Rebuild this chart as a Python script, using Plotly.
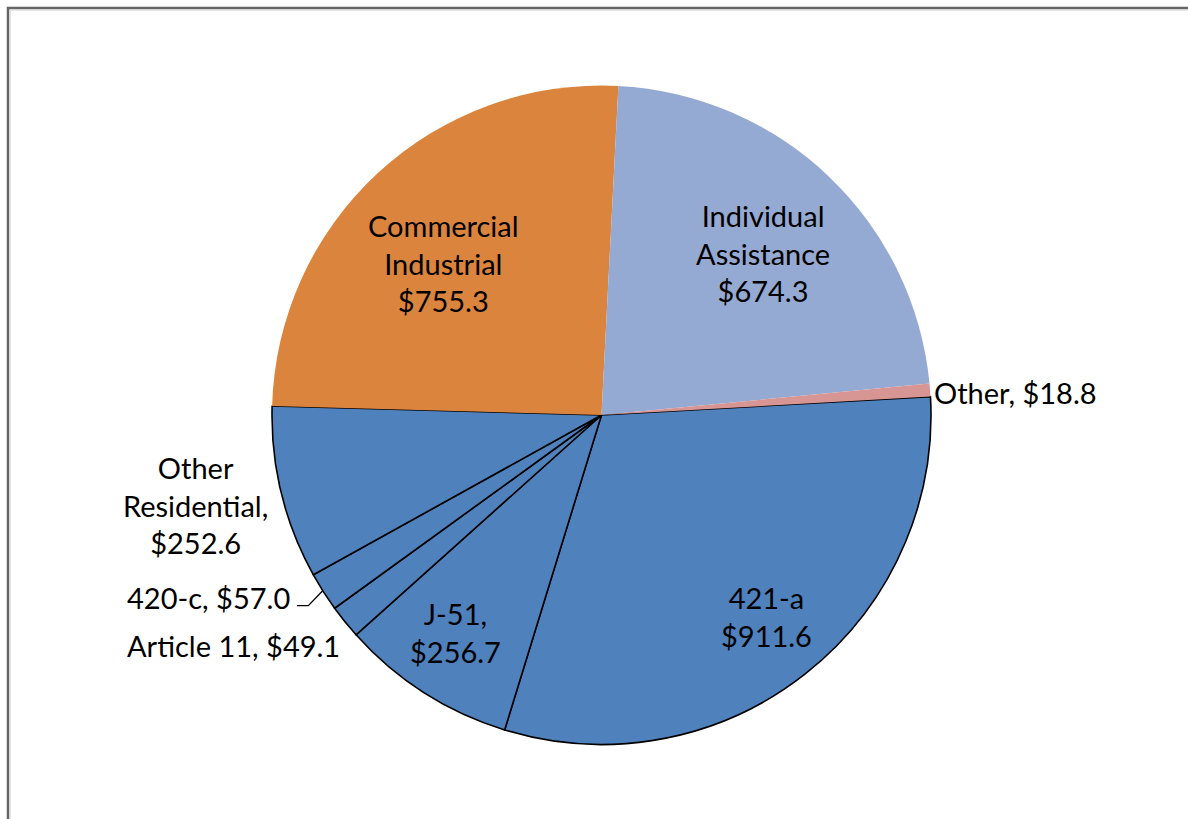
import plotly.graph_objects as go

# Tax expenditure categories ($ millions), in drawing order (clockwise from ~3 o'clock)
categories = ["421-a", "J-51", "Article 11", "420-c", "Other Residential",
              "Commercial Industrial", "Individual Assistance", "Other"]
values = [911.6, 256.7, 49.1, 57.0, 252.6, 755.3, 674.3, 18.8]
# how each category's name is printed in its data label
label_names = ["421-a", "J-51,", "Article 11,", "420-c,", "Other<br>Residential,",
               "Commercial<br>Industrial", "Individual<br>Assistance", "Other,"]
# label layout: True -> value on its own line, False -> same line
value_on_new_line = [True, True, False, False, True, True, True, False]

W, H = 1188, 819
BLUE = "#4F81BD"
colors = [BLUE, BLUE, BLUE, BLUE, BLUE, "#DB843E", "#95AAD2", "#D79694"]
outline_w = [1.6, 1.6, 1.6, 1.6, 1.6, 0, 0, 0]

cx, cy, r = 601.5, 415.0, 329.5


def px(x):
    return x / W


def py(y):
    return 1 - y / H


fig = go.Figure(go.Pie(
    labels=categories,
    values=values,
    sort=False,
    direction="clockwise",
    rotation=86.8,
    textinfo="none",
    hoverinfo="label+value",
    marker=dict(colors=colors, line=dict(color="black", width=outline_w)),
    domain=dict(x=[px(cx - r), px(cx + r)], y=[py(cy + r), py(cy - r)]),
    showlegend=False,
))

# label anchor points (pixel centres)
label_pos = [(766, 616), (456, 632), (233, 645), (208, 597), (195, 505),
             (443, 263), (763, 253), (1015, 392)]

FONT = dict(family="Lato, Carlito, sans-serif", size=29, color="black")
annotations = []
for name, v, nl, (x, y) in zip(label_names, values, value_on_new_line, label_pos):
    sep = "<br>" if nl else " "
    annotations.append(dict(
        x=px(x), y=py(y), xref="paper", yref="paper",
        text=f"{name}{sep}${v:.1f}", showarrow=False,
        xanchor="center", yanchor="middle", align="center", font=FONT,
    ))

shapes = [
    # chart frame (top and left edges)
    dict(type="path", xref="paper", yref="paper",
         path=f"M {px(8)} {py(830)} L {px(8)} {py(8)} L {px(1200)} {py(8)}",
         line=dict(color="#666666", width=2.5)),
    dict(type="path", xref="paper", yref="paper",
         path=f"M {px(10)} {py(830)} L {px(10)} {py(10)} L {px(1200)} {py(10)}",
         line=dict(color="#D0D0D0", width=1)),
    # leader line for the 420-c label
    dict(type="path", xref="paper", yref="paper",
         path=f"M {px(297)} {py(605.7)} L {px(308.3)} {py(605.7)} L {px(322.7)} {py(590.7)}",
         line=dict(color="black", width=1.3)),
]

fig.update_layout(
    width=W, height=H,
    margin=dict(l=0, r=0, t=0, b=0),
    paper_bgcolor="white", plot_bgcolor="white",
    annotations=annotations, shapes=shapes,
)

fig.write_html("out.html")
